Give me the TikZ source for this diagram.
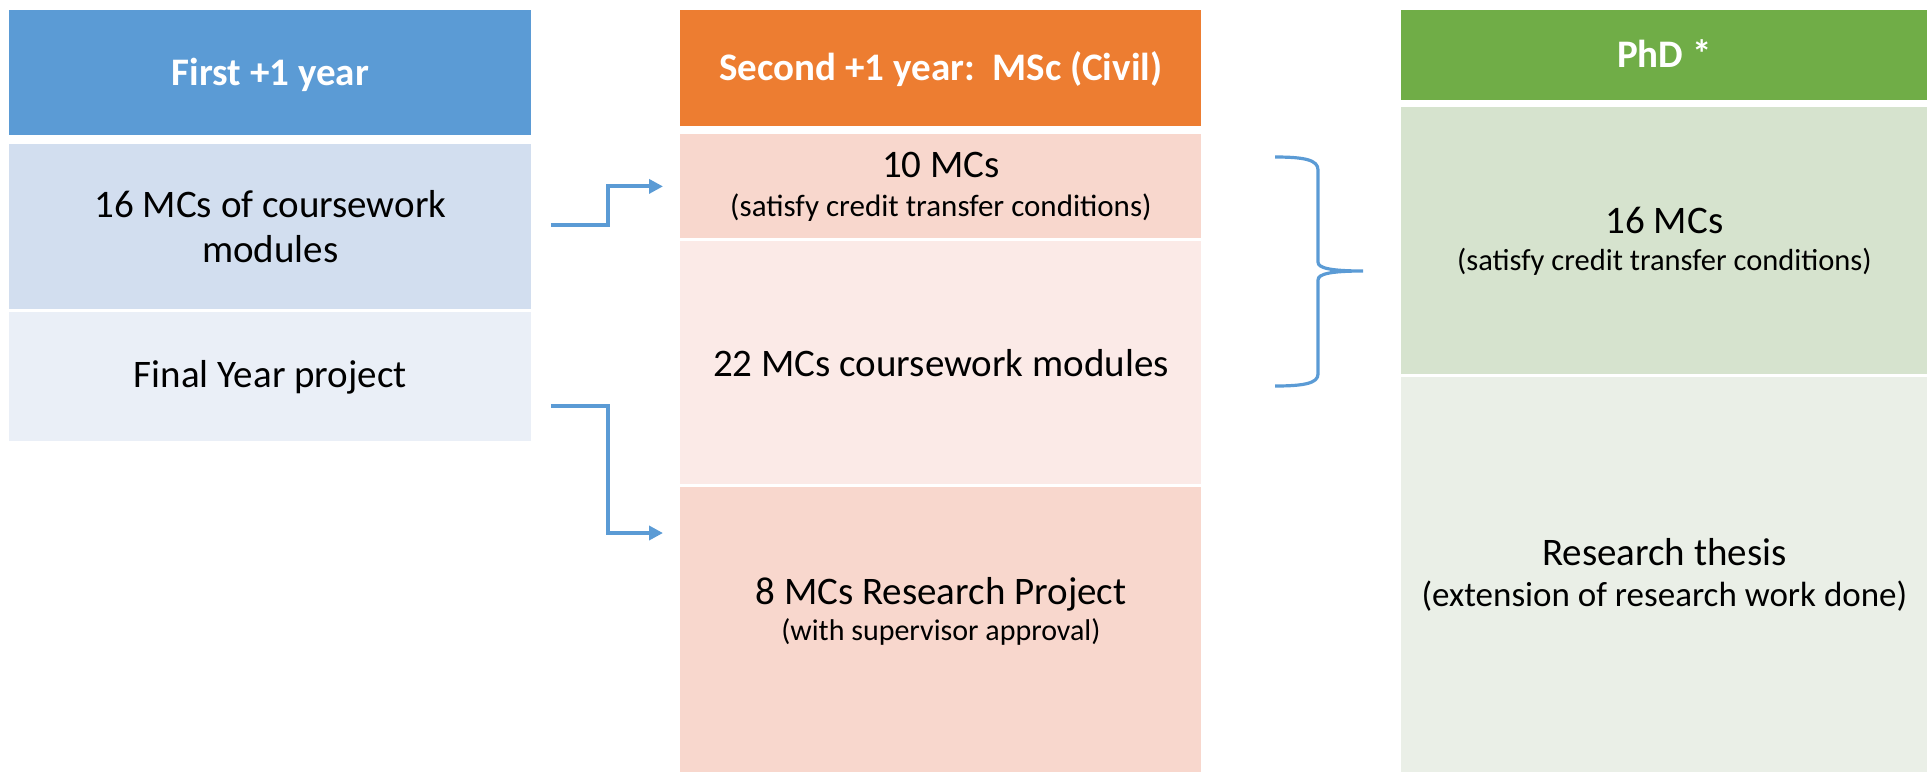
\documentclass[tikz,border=0pt]{standalone}
\usepackage{fontspec}
\setmainfont{Carlito}
\usetikzlibrary{arrows.meta}
\definecolor{hblue}{HTML}{5B9BD5}
\definecolor{bblue}{HTML}{D2DEEF}
\definecolor{lblue}{HTML}{EAEFF7}
\definecolor{horange}{HTML}{ED7D31}
\definecolor{borange}{HTML}{F8D7CD}
\definecolor{lorange}{HTML}{FBEAE7}
\definecolor{hgreen}{HTML}{70AD47}
\definecolor{bgreen}{HTML}{D6E3CE}
\definecolor{lgreen}{HTML}{EAEFE7}
\newcommand{\subtxt}[2][15]{{\fontsize{#1}{18}\selectfont #2}}

\begin{document}
\begin{tikzpicture}[
        x=0.5pt, y=-0.5pt,
        cell/.style={anchor=north west, inner sep=0pt, align=center, font=\fontsize{19.5}{22.5}\selectfont},
        hdr/.style={cell, text=white, font=\fontsize{19.5}{22.5}\selectfont\bfseries, text height=12.5pt, text depth=0pt},
        flow/.style={draw=hblue, line width=2pt, -{Triangle[length=7pt,width=7pt]}},
        brace/.style={draw=hblue, line width=1.6pt}
    ]
    \useasboundingbox (0,0) rectangle (1931,772);
    % first +1 year
    \node[hdr, fill=hblue, minimum width=261pt, minimum height=62.5pt] (h1) at (9,10) {First +1 year};
    \node[cell, fill=bblue, minimum width=261pt, minimum height=82.5pt] (c1) at (9,144) {16 MCs of coursework\\modules};
    \node[cell, fill=lblue, minimum width=261pt, minimum height=64.5pt] (f1) at (9,312) {Final Year project};
    % second +1 year
    \node[hdr, fill=horange, minimum width=260.5pt, minimum height=58pt] (h2) at (680,10) {Second +1 year:\ \ MSc (Civil)};
    \node[cell, fill=borange, minimum width=260.5pt, minimum height=52pt] (m10) at (680,134) {10 MCs\\[-3pt]\subtxt[15.5]{(satisfy credit transfer conditions)}};
    \node[cell, fill=lorange, minimum width=260.5pt, minimum height=121.5pt] (m22) at (680,241) {22 MCs coursework modules};
    \node[cell, fill=borange, minimum width=260.5pt, minimum height=142.5pt] (rp) at (680,487) {};
    \node[align=center, inner sep=0pt, font=\fontsize{19.5}{22.5}\selectfont] (rpt) at ([yshift=9.5pt]rp.center) {8 MCs Research Project\\[-4.5pt]\subtxt{(with supervisor approval)}};
    % PhD
    \node[hdr, fill=hgreen, minimum width=263pt, minimum height=45pt] (h3) at (1401,10) {PhD *};
    \node[cell, fill=bgreen, minimum width=263pt, minimum height=133.5pt] (m16) at (1401,107) {16 MCs\\[-4pt]\subtxt[15.25]{(satisfy credit transfer conditions)}};
    \node[cell, fill=lgreen, minimum width=263pt, minimum height=197.5pt] (th) at (1401,377) {Research thesis\\[-2pt]\subtxt[17.5]{(extension of research work done)}};
    % arrows
    \draw[flow] ([xshift=9.5pt,yshift=0.75pt]c1.east) -- ++(57,0) |- ([xshift=-8.5pt]m10.west);
    \draw[flow] ([xshift=9.5pt,yshift=-14.75pt]f1.east) -- ++(57,0) |- ([xshift=-8.5pt,yshift=-23pt]rp.north west);
    % brace
    \draw[brace] (1275,157) .. controls (1305,157) and (1318,160) .. (1318,170)
        -- (1318,262) .. controls (1318,268) and (1330,271) .. (1363,271)
        .. controls (1330,271) and (1318,274) .. (1318,280)
        -- (1318,374) .. controls (1318,383) and (1305,386) .. (1275,386);
\end{tikzpicture}
\end{document}
